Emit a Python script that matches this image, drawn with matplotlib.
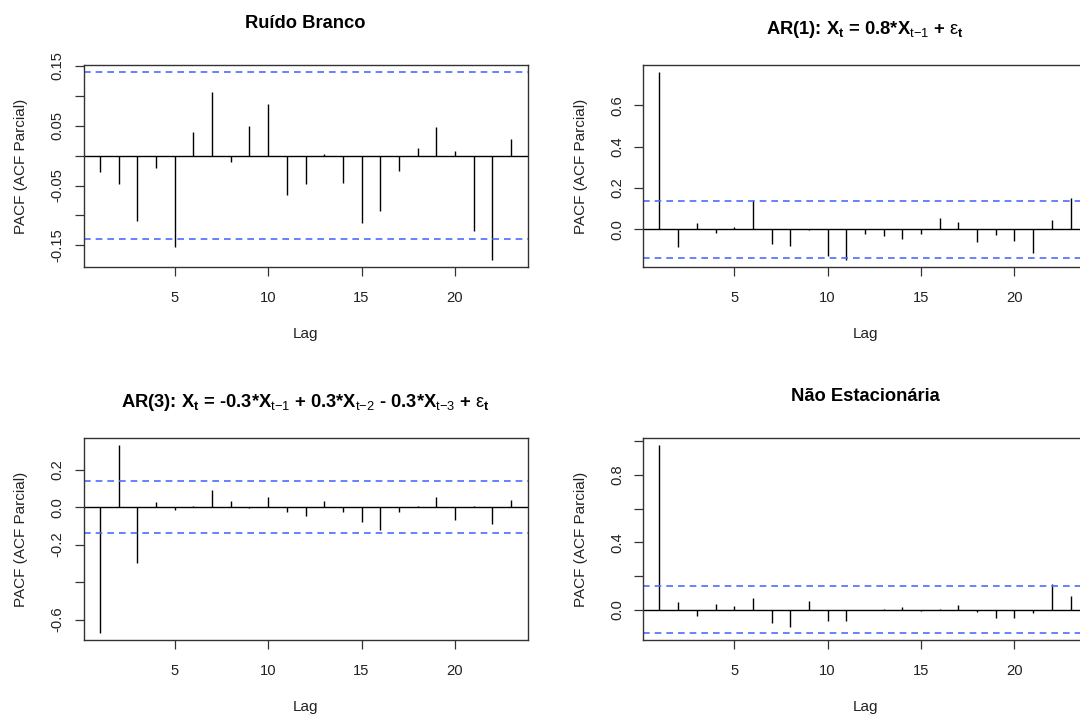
import numpy as np
import matplotlib
matplotlib.use('Agg')
import matplotlib.pyplot as plt

plt.rcParams['font.family'] = ['Liberation Sans', 'DejaVu Sans']
plt.rcParams['mathtext.fontset'] = 'custom'
plt.rcParams['mathtext.rm'] = 'Liberation Sans'
plt.rcParams['mathtext.it'] = 'Liberation Sans:italic'
plt.rcParams['mathtext.bf'] = 'Liberation Sans:bold'

# lags e valores da PACF
lags = list(range(1, 24))

pacf_ruido = [-0.028, -0.048, -0.110, -0.021, -0.152, 0.039, 0.106, -0.010,
              0.049, 0.086, -0.066, -0.047, 0.002, -0.046, -0.112, -0.092,
              -0.025, 0.013, 0.048, 0.008, -0.126, -0.174, 0.028]

pacf_ar1 = [0.758, -0.087, 0.031, -0.016, 0.011, 0.140, -0.071, -0.081,
            -0.005, -0.129, -0.148, -0.023, -0.035, -0.045, -0.023, 0.055,
            0.034, -0.061, -0.029, -0.056, -0.116, 0.045, 0.151]

pacf_ar3 = [-0.671, 0.330, -0.297, 0.030, -0.013, 0.007, 0.094, 0.032,
            -0.004, 0.055, -0.023, -0.048, 0.034, -0.025, -0.078, -0.121,
            -0.023, 0.007, 0.053, -0.068, 0.007, -0.087, 0.039]

pacf_nest = [0.976, 0.042, -0.036, 0.034, 0.020, 0.068, -0.079, -0.107,
             0.048, -0.066, -0.066, -0.002, 0.002, 0.016, -0.008, 0.002,
             0.026, -0.012, -0.050, -0.052, -0.018, 0.149, 0.081]

ci = 0.1386  # limite do intervalo de confianca (n = 200)

eps = r'$\mathrm{ε}_{\mathbf{t}}$'
titulos = ['Ruído Branco',
           r'AR(1): X$_{\mathbf{t}}$ = 0.8*X$_{\mathrm{t{-}1}}$ + ' + eps,
           r'AR(3): X$_{\mathbf{t}}$ = -0.3*X$_{\mathrm{t{-}1}}$ + 0.3*X$_{\mathrm{t{-}2}}$'
           r' - 0.3*X$_{\mathrm{t{-}3}}$ + ' + eps,
           'Não Estacionária']

yticks = [[0.15, 0.10, 0.05, 0.0, -0.05, -0.10, -0.15],
          [0.0, 0.2, 0.4, 0.6],
          [0.2, 0.0, -0.2, -0.4, -0.6],
          [0.0, 0.2, 0.4, 0.6, 0.8, 1.0]]
ylabels = [['0.15', '', '0.05', '', '-0.05', '', '-0.15'],
           ['0.0', '0.2', '0.4', '0.6'],
           ['0.2', '0.0', '-0.2', '', '-0.6'],
           ['0.0', '', '0.4', '', '0.8', '']]

series = [pacf_ruido, pacf_ar1, pacf_ar3, pacf_nest]

# posicoes em pixels (esquerda, topo) e linha de base dos titulos
W, H = 1080, 715
caixas = [(83.5, 65), (643, 65), (83.5, 438), (643, 438)]
base_titulo = [28.5, 33.5, 407, 401]
larg, alt = 444, 202.3

fig = plt.figure(figsize=(10.8, 7.15), dpi=100)
cor_eixo = '#333333'

for i, vals in enumerate(series):
    x0, y0 = caixas[i]
    ax = fig.add_axes([x0 / W, 1 - (y0 + alt) / H, larg / W, alt / H])

    ax.vlines(lags, 0, vals, color='black', lw=1.0)
    ax.axhline(0, color='black', lw=1.0)
    ax.axhline(ci, color='#4d6bff', lw=1.2, ls=(0, (4, 3)))
    ax.axhline(-ci, color='#4d6bff', lw=1.2, ls=(0, (4, 3)))

    # limites ao estilo do R (4% de folga)
    lo = min(min(vals), -ci)
    hi = max(max(vals), ci)
    d = 0.04 * (hi - lo)
    ax.set_ylim(lo - d, hi + d)
    d = 0.04 * (lags[-1] - lags[0])
    ax.set_xlim(lags[0] - d, lags[-1] + d)

    ax.set_xticks([5, 10, 15, 20])
    ax.set_yticks(yticks[i])
    ax.set_yticklabels(ylabels[i], rotation=90, va='center')

    for s in ax.spines.values():
        s.set_color(cor_eixo)
        s.set_linewidth(1.0)
    ax.tick_params(direction='out', length=6.5, width=0.9, color=cor_eixo,
                   labelsize=10.6, labelcolor='#222222')
    ax.tick_params(axis='x', pad=10.3)
    ax.tick_params(axis='y', pad=7)

    xc = x0 + larg / 2
    fig.text(xc / W, 1 - base_titulo[i] / H, titulos[i], ha='center',
             va='baseline', fontsize=13.2, fontweight='bold')
    fig.text(xc / W, 1 - (y0 + alt + 67) / H, 'Lag', ha='center',
             va='center', fontsize=11, color='#222222')
    fig.text((x0 - 62.5) / W, 1 - (y0 + alt / 2) / H, 'PACF (ACF Parcial)',
             ha='center', va='center', rotation=90, fontsize=11,
             color='#222222')

fig.savefig('out.png', dpi=100)
